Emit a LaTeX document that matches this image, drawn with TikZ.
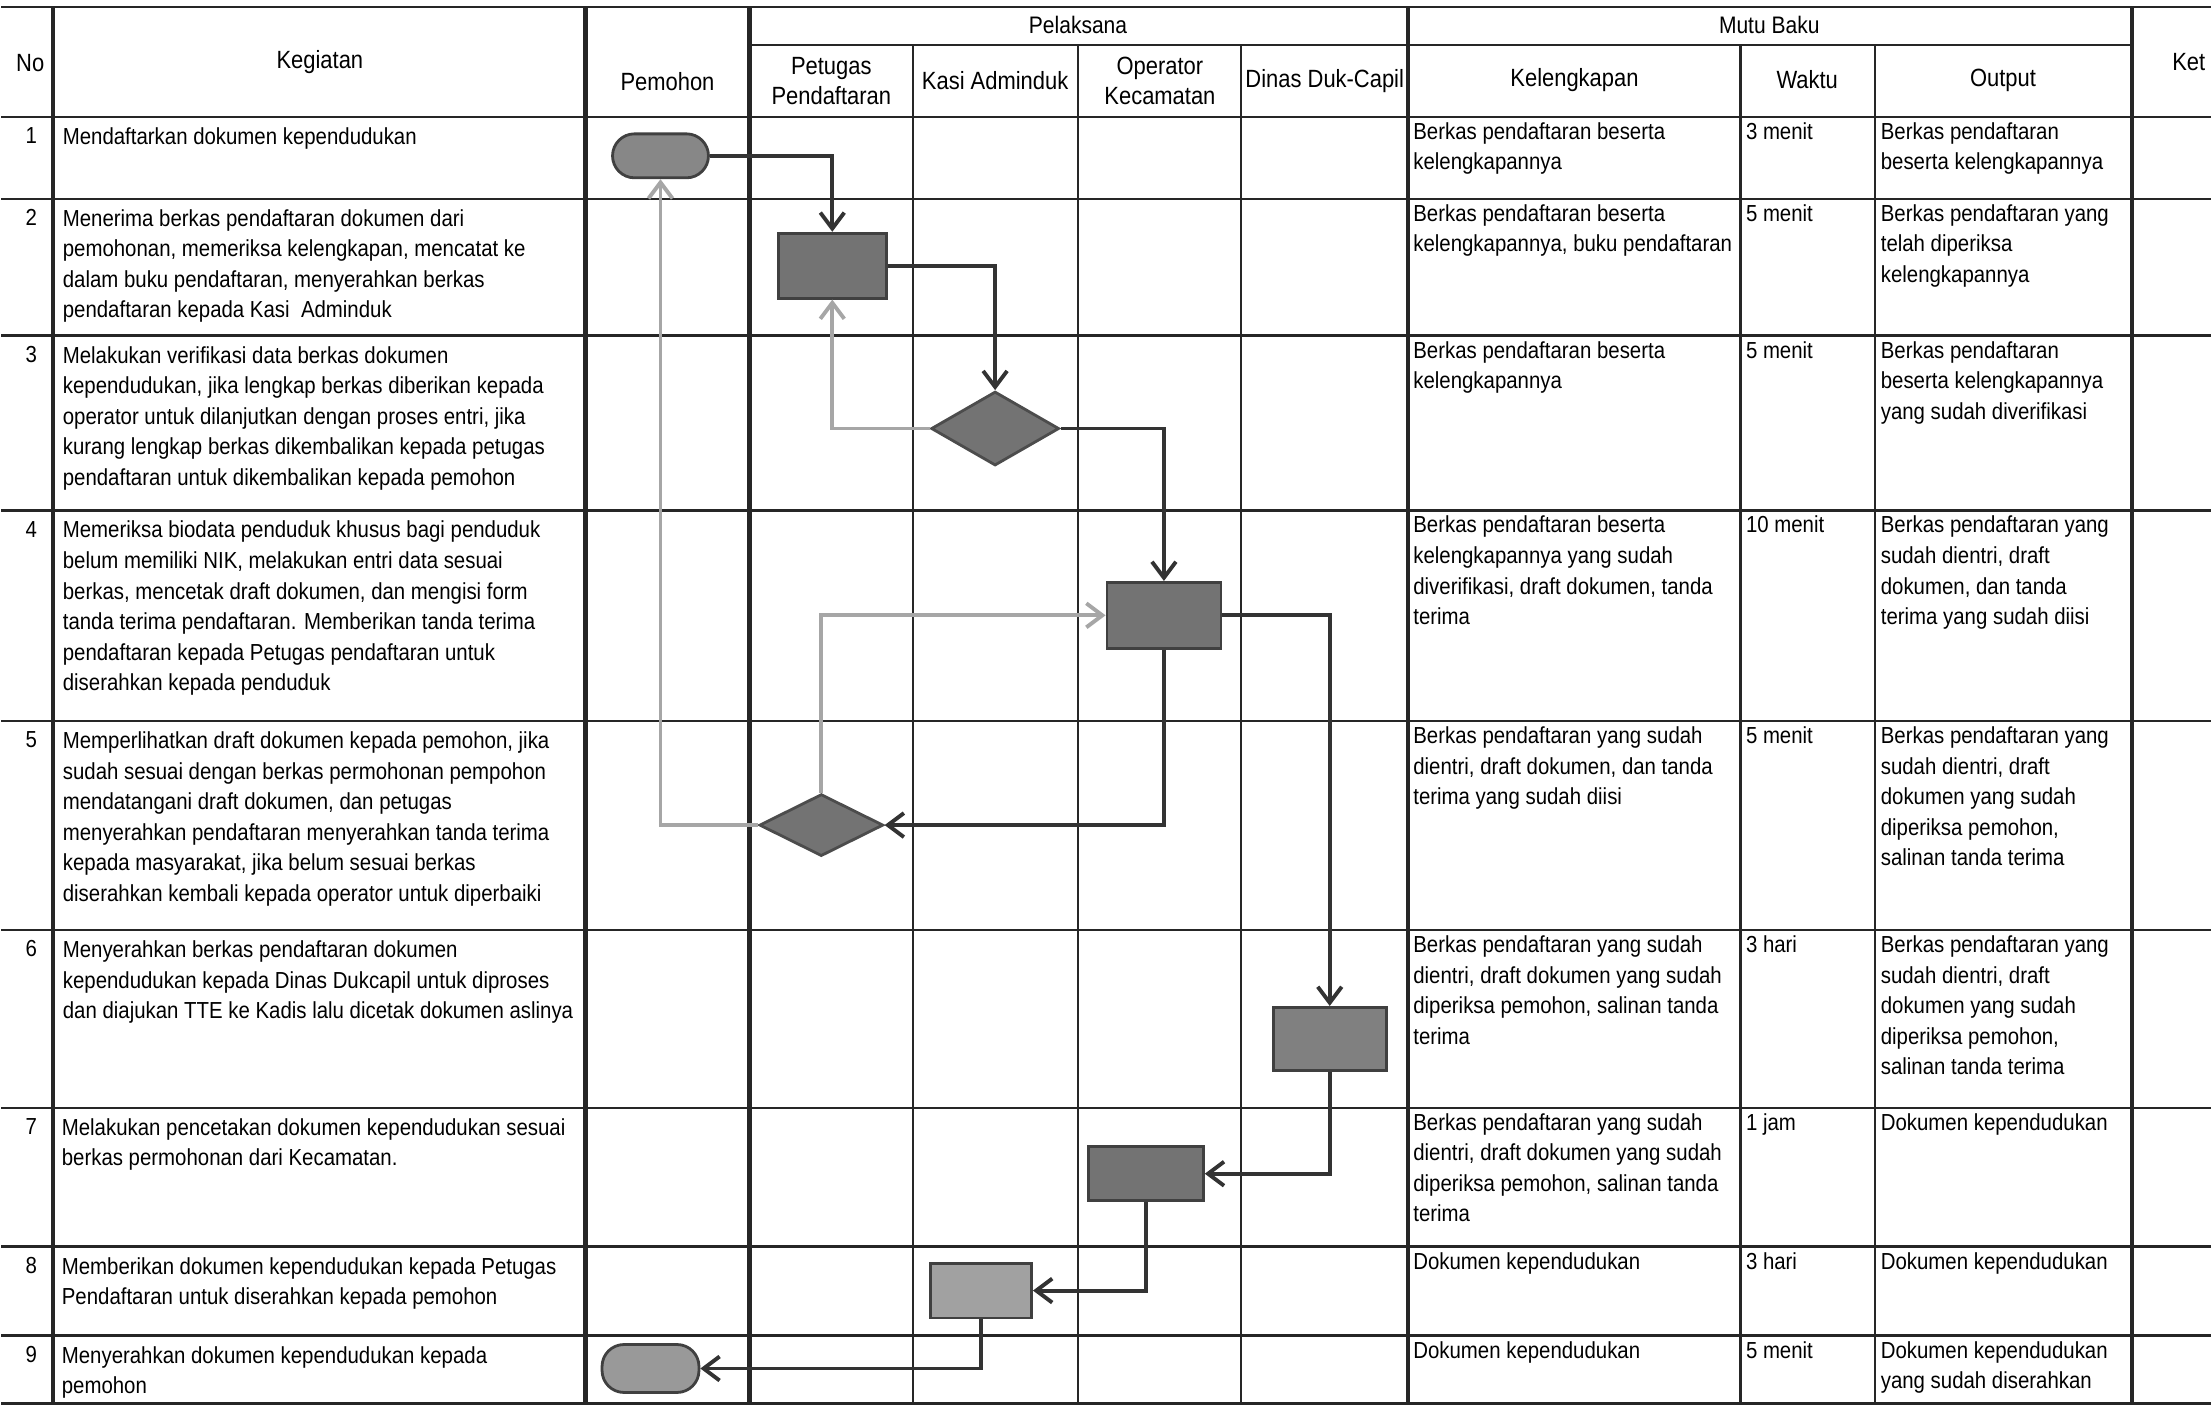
\documentclass[tikz,border=0pt]{standalone}
\usepackage{fontspec}
\setmainfont[FakeStretch=0.88]{Liberation Sans}
\usetikzlibrary{arrows.meta,shapes.geometric}

\begin{document}
\begin{tikzpicture}[x=0.01cm,y=-0.01cm,>={Straight Barb[length=1.6mm,width=2.4mm]},
	grid/.style={line width=0.7pt,black!85},
	gridb/.style={line width=1.2pt,black!85},
	hd/.style={font=\fontsize{7.1pt}{8.6pt}\selectfont,align=center,inner sep=0pt},
	cell/.style={font=\fontsize{6.6pt}{8.7pt}\selectfont,align=left,anchor=north west,inner sep=0pt},
	num/.style={font=\fontsize{6.6pt}{8.7pt}\selectfont,anchor=north,inner sep=0pt},
	proc/.style={draw=black!75,line width=0.8pt,fill=black!55,inner sep=0pt},
	deci/.style={diamond,draw=black!70,line width=0.8pt,fill=black!55,inner sep=0pt},
	term/.style={draw=black!75,line width=0.8pt,fill=black!47,rounded corners=0.22cm,inner sep=0pt},
	dark/.style={->,line width=1.1pt,black!80},
	pale/.style={->,line width=1.1pt,black!35}]

\definecolor{paper}{rgb}{1,1,1}
\fill[paper] (0,0) rectangle (2212,1408);

% table
\draw[grid] (0,7) -- (2212,7);
\draw[grid] (749,45) -- (2133,45);
\foreach \y in {117,199,336,511,722,931,1109,1248,1337,1405}
	{
		\draw[grid] (0,\y) -- (2212,\y);
	}
\foreach \x in {52,585,749,1408,2133}
	\draw[gridb] (\x,7) -- (\x,1405);
\foreach \x in {913,1078,1241,1741,1876}
	\draw[grid] (\x,45) -- (\x,1405);

% header
\node[hd] (hNo) at (29,63) {No};
\node[hd] (hKeg) at (319,62) {Kegiatan};
\node[hd,font=\fontsize{6.8pt}{8pt}\selectfont] (hPel) at (1078,25) {Pelaksana};
\node[hd,font=\fontsize{6.8pt}{8pt}\selectfont] (hMutu) at (1770,25) {Mutu Baku};
\node[hd] (hPem) at (667,82) {Pemohon};
\node[hd] (hPet) at (831,81) {Petugas\\Pendaftaran};
\node[hd] (hKasi) at (995,81) {Kasi Adminduk};
\node[hd] (hOp) at (1160,81) {Operator\\Kecamatan};
\node[hd] (hDin) at (1325,81) {Dinas Duk-Capil};
\node[hd] (hKel) at (1575,80) {Kelengkapan};
\node[hd] (hWkt) at (1808,80) {Waktu};
\node[hd] (hOut) at (2004,80) {Output};
\node[hd] (hKet) at (2190,62) {Ket};

% nomor
\node[num] (no1) at (30,127) {1};
\node[num] (no2) at (30,209) {2};
\node[num] (no3) at (30,346) {3};
\node[num] (no4) at (30,521) {4};
\node[num] (no5) at (30,732) {5};
\node[num] (no6) at (30,941) {6};
\node[num] (no7) at (30,1119) {7};
\node[num] (no8) at (30,1258) {8};
\node[num] (no9) at (30,1347) {9};

% kegiatan
\node[cell] (kg1) at (61,127) {Mendaftarkan dokumen kependudukan};
\node[cell] (kg2) at (61,209) {Menerima berkas pendaftaran dokumen dari\\pemohonan, memeriksa kelengkapan, mencatat ke\\dalam buku pendaftaran, menyerahkan berkas\\pendaftaran kepada Kasi\ \ Adminduk};
\node[cell] (kg3) at (61,346) {Melakukan verifikasi data berkas dokumen\\kependudukan, jika lengkap berkas diberikan kepada\\operator untuk dilanjutkan dengan proses entri, jika\\kurang lengkap berkas dikembalikan kepada petugas\\pendaftaran untuk dikembalikan kepada pemohon};
\node[cell] (kg4) at (61,521) {Memeriksa biodata penduduk khusus bagi penduduk\\belum memiliki NIK, melakukan entri data sesuai\\berkas, mencetak draft dokumen, dan mengisi form\\tanda terima pendaftaran. Memberikan tanda terima\\pendaftaran kepada Petugas pendaftaran untuk\\diserahkan kepada penduduk};
\node[cell] (kg5) at (61,732) {Memperlihatkan draft dokumen kepada pemohon, jika\\sudah sesuai dengan berkas permohonan pempohon\\mendatangani draft dokumen, dan petugas\\menyerahkan pendaftaran menyerahkan tanda terima\\kepada masyarakat, jika belum sesuai berkas\\diserahkan kembali kepada operator untuk diperbaiki};
\node[cell] (kg6) at (61,941) {Menyerahkan berkas pendaftaran dokumen\\kependudukan kepada Dinas Dukcapil untuk diproses\\dan diajukan TTE ke Kadis lalu dicetak dokumen aslinya};
\node[cell] (kg7) at (60,1119) {Melakukan pencetakan dokumen kependudukan sesuai\\berkas permohonan dari Kecamatan.};
\node[cell] (kg8) at (60,1258) {Memberikan dokumen kependudukan kepada Petugas\\Pendaftaran untuk diserahkan kepada pemohon};
\node[cell] (kg9) at (60,1347) {Menyerahkan dokumen kependudukan kepada\\pemohon};

% kelengkapan
\node[cell] (kl1) at (1413,122) {Berkas pendaftaran beserta\\kelengkapannya};
\node[cell] (kl2) at (1413,204) {Berkas pendaftaran beserta\\kelengkapannya, buku pendaftaran};
\node[cell] (kl3) at (1413,341) {Berkas pendaftaran beserta\\kelengkapannya};
\node[cell] (kl4) at (1413,516) {Berkas pendaftaran beserta\\kelengkapannya yang sudah\\diverifikasi, draft dokumen, tanda\\terima};
\node[cell] (kl5) at (1413,727) {Berkas pendaftaran yang sudah\\dientri, draft dokumen, dan tanda\\terima yang sudah diisi};
\node[cell] (kl6) at (1413,936) {Berkas pendaftaran yang sudah\\dientri, draft dokumen yang sudah\\diperiksa pemohon, salinan tanda\\terima};
\node[cell] (kl7) at (1413,1114) {Berkas pendaftaran yang sudah\\dientri, draft dokumen yang sudah\\diperiksa pemohon, salinan tanda\\terima};
\node[cell] (kl8) at (1413,1253) {Dokumen kependudukan};
\node[cell] (kl9) at (1413,1342) {Dokumen kependudukan};

% waktu
\node[cell] (wk1) at (1746,122) {3 menit};
\node[cell] (wk2) at (1746,204) {5 menit};
\node[cell] (wk3) at (1746,341) {5 menit};
\node[cell] (wk4) at (1746,516) {10 menit};
\node[cell] (wk5) at (1746,727) {5 menit};
\node[cell] (wk6) at (1746,936) {3 hari};
\node[cell] (wk7) at (1746,1114) {1 jam};
\node[cell] (wk8) at (1746,1253) {3 hari};
\node[cell] (wk9) at (1746,1342) {5 menit};

% output
\node[cell] (op1) at (1881,122) {Berkas pendaftaran\\beserta kelengkapannya};
\node[cell] (op2) at (1881,204) {Berkas pendaftaran yang\\telah diperiksa\\kelengkapannya};
\node[cell] (op3) at (1881,341) {Berkas pendaftaran\\beserta kelengkapannya\\yang sudah diverifikasi};
\node[cell] (op4) at (1881,516) {Berkas pendaftaran yang\\sudah dientri, draft\\dokumen, dan tanda\\terima yang sudah diisi};
\node[cell] (op5) at (1881,727) {Berkas pendaftaran yang\\sudah dientri, draft\\dokumen yang sudah\\diperiksa pemohon,\\salinan tanda terima};
\node[cell] (op6) at (1881,936) {Berkas pendaftaran yang\\sudah dientri, draft\\dokumen yang sudah\\diperiksa pemohon,\\salinan tanda terima};
\node[cell] (op7) at (1881,1114) {Dokumen kependudukan};
\node[cell] (op8) at (1881,1253) {Dokumen kependudukan};
\node[cell] (op9) at (1881,1342) {Dokumen kependudukan\\yang sudah diserahkan};

% flow
\node[term,minimum width=0.96cm,minimum height=0.44cm] (start) at (660,156) {};
\node[proc,minimum width=1.08cm,minimum height=0.65cm] (daftar) at (832,266) {};
\node[deci,minimum width=1.28cm,minimum height=0.74cm] (verif) at (995,429) {};
\node[proc,minimum width=1.14cm,minimum height=0.66cm] (entri) at (1164,616) {};
\node[deci,minimum width=1.24cm,minimum height=0.62cm] (cek) at (821,826) {};
\node[proc,fill=black!50,minimum width=1.13cm,minimum height=0.63cm] (tte) at (1330,1040) {};
\node[proc,minimum width=1.15cm,minimum height=0.54cm] (cetak) at (1146,1175) {};
\node[proc,fill=black!37,minimum width=1.01cm,minimum height=0.55cm] (beri) at (981,1292) {};
\node[term,fill=black!40,minimum width=0.97cm,minimum height=0.48cm] (selesai) at (650,1370) {};

\draw[dark] (start.east) -| (daftar.north);
\draw[dark] (daftar.east) -| (verif.north);
\draw[pale] (verif.west) -| (daftar.south);
\draw[dark] (verif.east) -| (entri.north);
\draw[dark] (entri.south) |- (cek.east);
\draw[pale] (cek.north) |- (entri.west);
\draw[pale] (cek.west) -| (start.south);
\draw[dark] (entri.east) -| (tte.north);
\draw[dark] (tte.south) |- (cetak.east);
\draw[dark] (cetak.south) |- (beri.east);
\draw[dark] (beri.south) |- (selesai.east);
\end{tikzpicture}
\end{document}
